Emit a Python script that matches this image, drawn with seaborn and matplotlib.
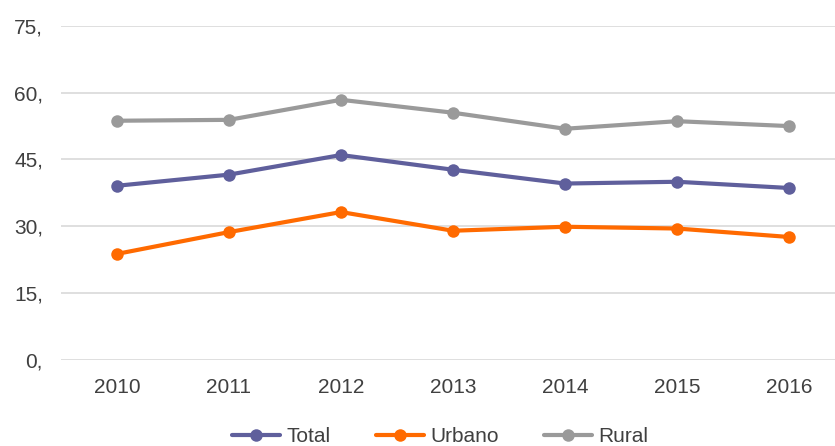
import numpy as np
import pandas as pd
import matplotlib
matplotlib.use("Agg")
import matplotlib.pyplot as plt
import seaborn as sns

years = ["2010", "2011", "2012", "2013", "2014", "2015", "2016"]
total = [39.1, 41.6, 46.0, 42.7, 39.6, 40.0, 38.6]
urbano = [23.8, 28.7, 33.2, 29.0, 29.9, 29.5, 27.6]
rural = [53.7, 53.9, 58.4, 55.5, 51.9, 53.6, 52.5]
series = ["Total", "Urbano", "Rural"]
y_ticks = [0, 15, 30, 45, 60, 75]

df = pd.DataFrame({
    "year": years * 3,
    "value": total + urbano + rural,
    "serie": np.repeat(series, len(years)),
})

sns.set_style("white")
plt.rcParams["font.family"] = ["Liberation Sans", "DejaVu Sans"]

fig = plt.figure(figsize=(8.35, 4.46), dpi=100)
ax = fig.add_axes([0.073, 0.193, 0.927, 0.749])

palette = {"Total": "#5f5f9c", "Urbano": "#ff6a00", "Rural": "#9a9a9a"}
sns.lineplot(data=df, x="year", y="value", hue="serie", palette=palette,
             marker="o", markersize=9, linewidth=3, markeredgewidth=0,
             sort=False, ax=ax)

ax.set_ylim(0, 75)
ax.set_yticks(y_ticks)
ax.set_yticklabels([f"{t}," for t in y_ticks])
ax.set_xlim(-0.5, 6.41)
ax.yaxis.grid(True, color="#d9d9d9", linewidth=1.2)
ax.set_axisbelow(True)
for s in ax.spines.values():
    s.set_visible(False)
ax.tick_params(axis="both", length=0, labelsize=15, colors="#404040")
ax.tick_params(axis="x", pad=13)
ax.tick_params(axis="y", pad=13)
ax.set_xlabel("")
ax.set_ylabel("")

handles, labels = ax.get_legend_handles_labels()
ax.legend(handles, labels, loc="upper center", bbox_to_anchor=(0.49, -0.145),
          ncol=3, frameon=False, fontsize=15, handlelength=2.3,
          columnspacing=2.2, handletextpad=0.3, labelcolor="#404040")

fig.savefig("out.png", dpi=100)
